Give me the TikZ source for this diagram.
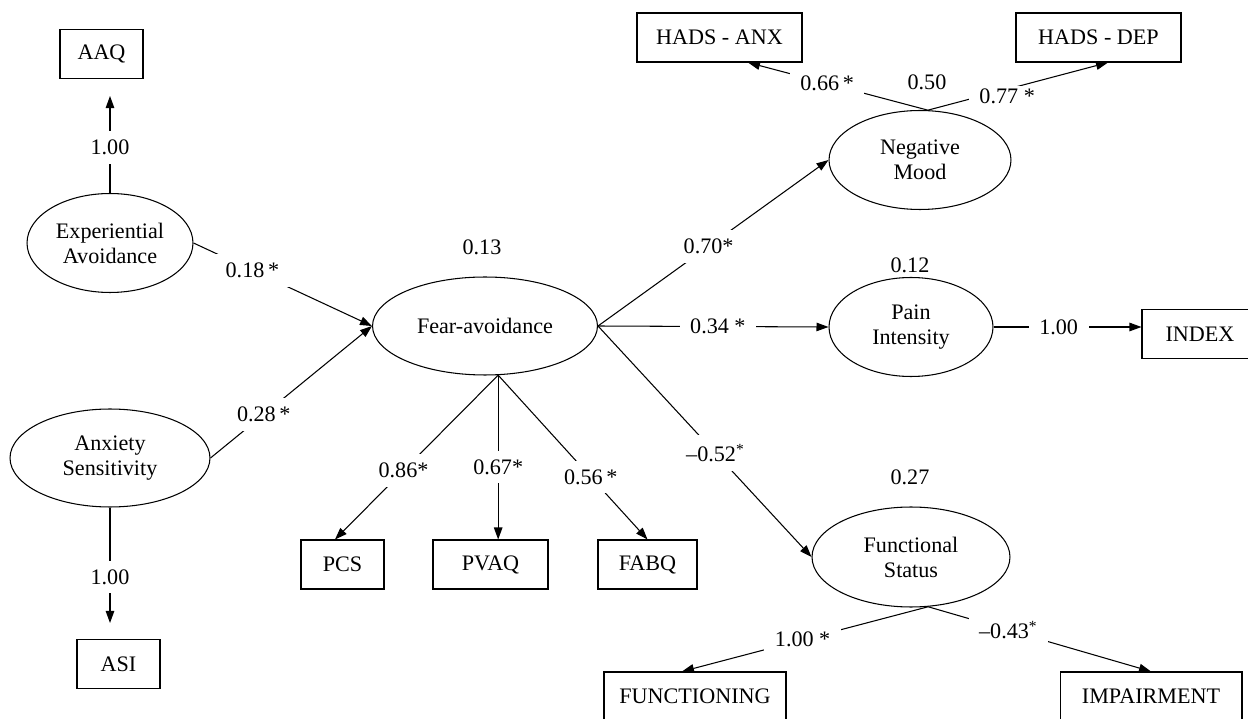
\documentclass[tikz,border=0pt]{standalone}
\usepackage{fontspec}
\setmainfont{Liberation Serif}
\usetikzlibrary{shapes.geometric,arrows.meta}

\begin{document}
\begin{tikzpicture}[x=0.02cm, y=-0.02cm,
    font=\fontsize{12.6}{14.2}\selectfont,
    lat/.style={draw, ellipse, inner sep=0pt, align=center, line width=0.6pt},
    obs/.style={draw, rectangle, inner sep=0pt, minimum height=0.98cm, line width=0.6pt},
    coef/.style={fill=white, inner xsep=6pt, inner ysep=5pt},
    lnk/.style={line width=0.6pt, -{Triangle[length=2.4mm, width=1.7mm]}}]

\useasboundingbox (0,0) rectangle (1248,719);

%% === latent variables ===
\node[lat, minimum width=3.32cm, minimum height=1.98cm] (ea) at (110,243) {Experiential\\Avoidance};
\node[lat, minimum width=4.0cm,  minimum height=1.96cm] (as) at (110,458) {Anxiety\\Sensitivity};
\node[lat, minimum width=4.5cm,  minimum height=1.96cm] (fa) at (485,326) {Fear-avoidance};
\node[lat, minimum width=3.64cm, minimum height=1.98cm] (nm) at (920,160) {Negative\\Mood};
\node[lat, minimum width=3.28cm, minimum height=1.98cm] (pi) at (911,327) {Pain\\Intensity};
\node[lat, minimum width=3.96cm, minimum height=2.0cm]  (fs) at (911,557) {Functional\\Status};

%% === indicators ===
\node[obs, minimum width=1.66cm] (aaq)  at (101.5,54)   {AAQ};
\node[obs, minimum width=1.66cm] (asi)  at (118.5,664)  {ASI};
\node[obs, minimum width=1.66cm] (pcs)  at (342.5,564.5) {PCS};
\node[obs, minimum width=2.3cm]  (pvaq) at (490.5,564.5) {PVAQ};
\node[obs, minimum width=1.98cm] (fabq) at (647.5,564.5) {FABQ};
\node[obs, minimum width=3.3cm]  (anx)  at (719.5,37.5) {HADS - ANX};
\node[obs, minimum width=3.3cm]  (dep)  at (1098.5,37.5) {HADS - DEP};
\node[obs, minimum width=2.32cm] (idx)  at (1200,334)   {INDEX};
\node[obs, minimum width=3.64cm] (fun)  at (695,696.5)  {FUNCTIONING};
\node[obs, minimum width=3.64cm] (imp)  at (1151,696.5) {IMPAIRMENT};

%% === explained variance ===
\node (r2fa) at (482,247) {0.13};
\node (r2nm) at (927,82)  {0.50};
\node (r2pi) at (910,265) {0.12};
\node (r2fs) at (910,477) {0.27};

%% === measurement paths ===
\draw[lnk, shorten >=0.34cm] (ea.north) -- node[coef, pos=0.4]  {1.00} (ea.north |- aaq.south);
\draw[lnk, shorten >=0.32cm] (as.south) -- node[coef, pos=0.53] {1.00} (as.south |- asi.north);

\draw[lnk] (fa.-75) -- node[coef, pos=0.58] {0.86*} ([xshift=-0.15cm]pcs.north);
\draw[lnk] (fa.-75) -- node[coef, pos=0.56] {0.67*} (fa.-75 |- pvaq.north);
\draw[lnk] (fa.-75) -- node[coef, pos=0.62] {0.56\,*} (fabq.north);

\draw[lnk] (nm.81) -- node[coef, pos=0.56, inner ysep=2pt] {0.66\,*} ([xshift=0.57cm]anx.south);
\draw[lnk] (nm.81) -- node[coef, pos=0.44, yshift=-0.15cm, inner ysep=2pt] {0.77 *} ([xshift=0.19cm]dep.south);

\draw[lnk] (pi.east) -- node[coef, pos=0.44] {1.00} (pi.east -| idx.west);

\draw[lnk] (fs.-71) -- node[coef, pos=0.51, inner ysep=2pt] {1.00 *} ([xshift=-0.26cm]fun.north);
\draw[lnk] (fs.-71) -- node[coef, pos=0.36, inner ysep=2pt] {--0.43\textsuperscript{*}} (imp.north);

%% === structural paths ===
\draw[lnk] (ea.east) -- node[coef, pos=0.33] {0.18\,*} (fa.west);
\draw[lnk] (as.east) -- node[coef, pos=0.33] {0.28\,*} (fa.west);
\draw[lnk] (fa.east) -- node[coef, pos=0.48] {0.70*} (nm.west);
\draw[lnk] (fa.east) -- node[coef, pos=0.52] {0.34 *} (pi.west);
\draw[lnk] (fa.east) -- node[coef, pos=0.55] {--0.52\textsuperscript{*}} (fs.west);

\end{tikzpicture}
\end{document}
